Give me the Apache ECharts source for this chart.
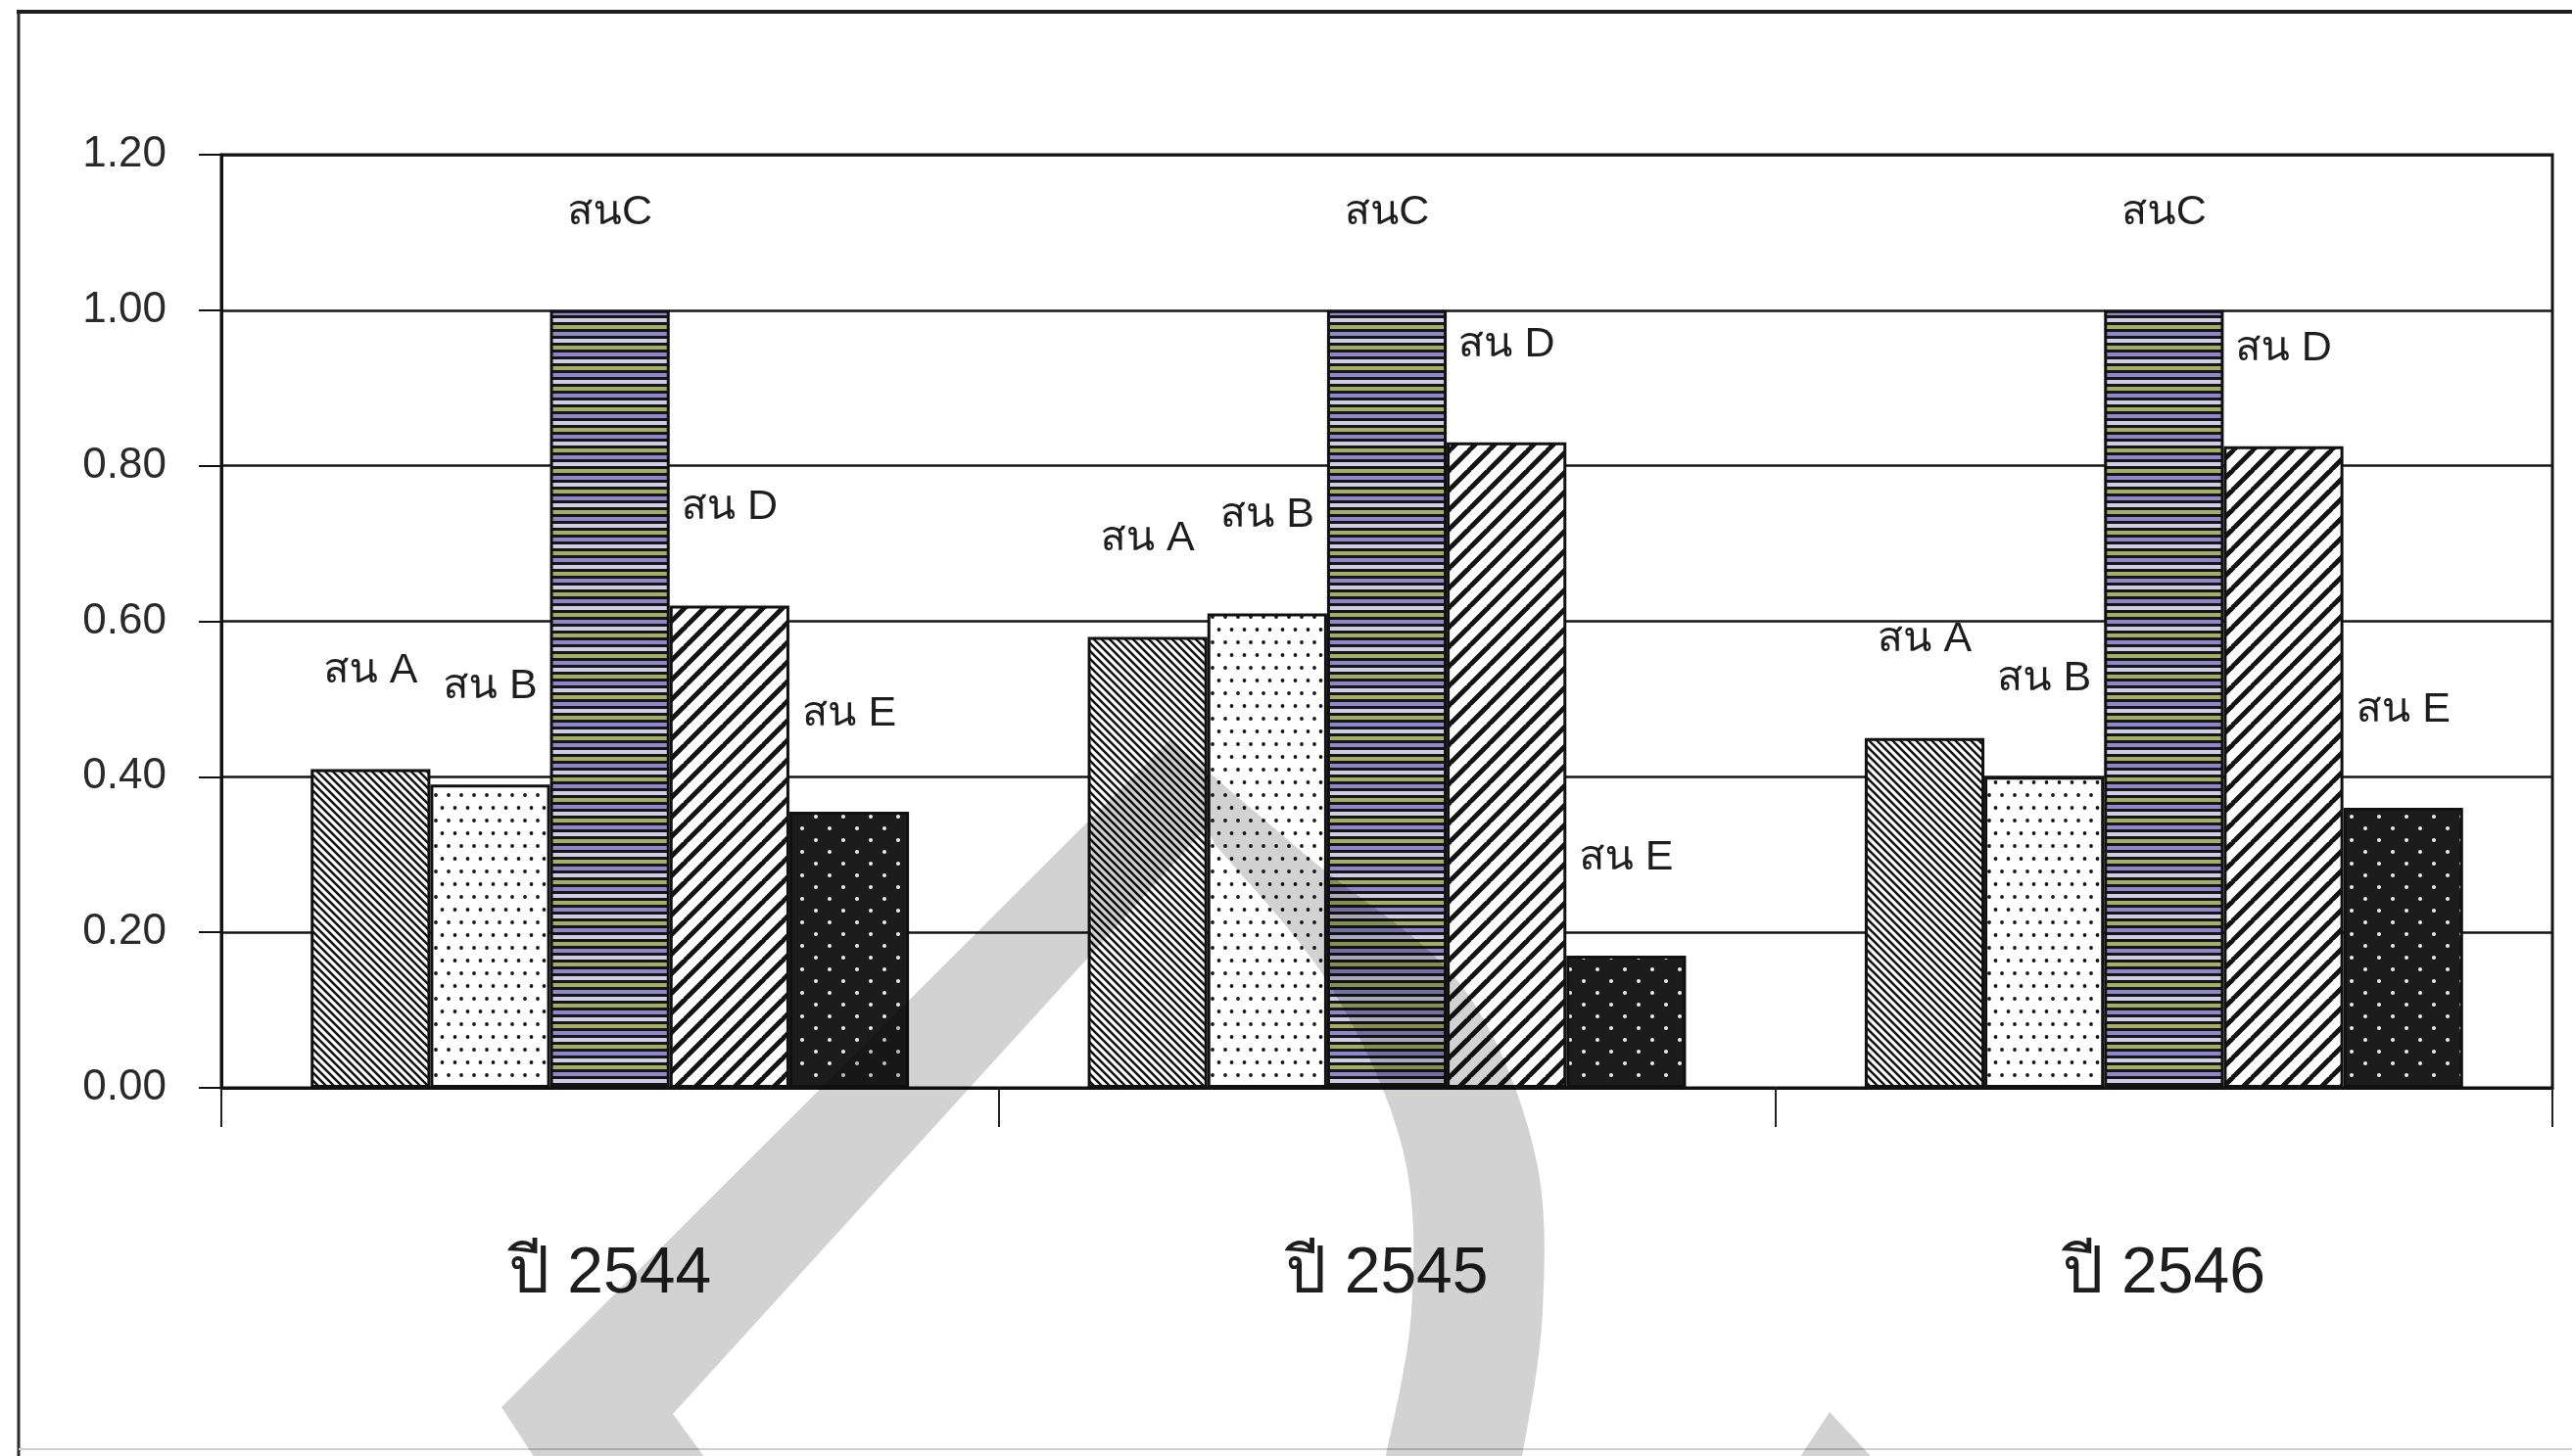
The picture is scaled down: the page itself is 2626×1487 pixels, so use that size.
<!DOCTYPE html>
<html>
<head>
<meta charset="utf-8">
<script src="https://cdn.jsdelivr.net/npm/echarts@6/dist/echarts.min.js"></script>
<style>
  html, body { margin: 0; padding: 0; background: #ffffff; }
  #chart { width: 2626px; height: 1487px; }
</style>
</head>
<body>
<div id="chart"></div>
<script>
// Categories (years) and one value per pine species per year
const years = ['ปี 2544', 'ปี 2545', 'ปี 2546'];
const speciesNames = ['สน A', 'สน B', 'สนC', 'สน D', 'สน E'];
const pineA = [0.41, 0.58, 0.45];
const pineB = [0.39, 0.61, 0.40];
const pineC = [1.00, 1.00, 1.00];
const pineD = [0.62, 0.83, 0.825];
const pineE = [0.355, 0.17, 0.36];
const yTickLabels = ['0.00', '0.20', '0.40', '0.60', '0.80', '1.00', '1.20'];

const FONT = "'Liberation Sans', Arial, 'Garuda', 'Loma', 'Noto Sans Thai', 'Noto Sans', 'DejaVu Sans', sans-serif";

// ---- hatch / dot fill tiles ----
function tile(w, h, draw) {
  const c = document.createElement('canvas');
  c.width = w; c.height = h;
  draw(c.getContext('2d'), w, h);
  return c;
}
function stripes(size, width, back, dir) {
  return tile(size, size, (g, w, h) => {
    g.fillStyle = back; g.fillRect(0, 0, w, h);
    g.strokeStyle = '#141414'; g.lineWidth = width;
    for (const o of [-w, 0, w]) {
      g.beginPath();
      if (dir === 'back') { g.moveTo(o - 1, -1); g.lineTo(o + w + 1, h + 1); }
      else { g.moveTo(o - 1, h + 1); g.lineTo(o + w + 1, -1); }
      g.stroke();
    }
  });
}
function dots(w, h, back, dot, r, pts) {
  return tile(w, h, (g) => {
    g.fillStyle = back; g.fillRect(0, 0, w, h);
    g.fillStyle = dot;
    pts.forEach(p => { g.beginPath(); g.arc(p[0], p[1], r, 0, Math.PI * 2); g.fill(); });
  });
}
const fillA = stripes(8, 2.6, '#ffffff', 'back');
const fillB = dots(13, 26, '#ffffff', '#161616', 1.9, [[3, 6], [9.5, 19]]);
const fillC = tile(7, 21, (g, w) => {
  const gaps = ['#8f87c9', '#cfcce6', '#a5ad66'];
  for (let i = 0; i < 3; i++) {
    g.fillStyle = '#161616'; g.fillRect(0, i * 7, w, 3);
    g.fillStyle = gaps[i]; g.fillRect(0, i * 7 + 3, w, 4);
  }
});
const fillD = stripes(20, 5, '#ffffff', 'fwd');
const fillE = dots(28, 24, '#1c1c1c', '#ececec', 2, [[7, 6], [21, 18]]);

const fills = [fillA, fillB, fillC, fillD, fillE];
const values = [pineA, pineB, pineC, pineD, pineE];

const series = speciesNames.map((name, i) => ({
  name: name,
  type: 'bar',
  data: values[i],
  barGap: '0%',
  barCategoryGap: '23%',
  itemStyle: {
    color: { image: fills[i], repeat: 'repeat' },
    borderColor: '#111111',
    borderWidth: 3
  },
  label: {
    show: true,
    position: 'top',
    distance: 78,
    formatter: '{a}',
    color: '#1e1e1e',
    fontSize: 43,
    lineHeight: 44,
    fontFamily: FONT
  },
  emphasis: { disabled: true }
}));

// ---- large light-grey watermark shape drawn over the chart ----
function catmull(pts, steps) {
  const out = [];
  for (let i = 0; i < pts.length - 1; i++) {
    const p0 = pts[Math.max(0, i - 1)], p1 = pts[i], p2 = pts[i + 1], p3 = pts[Math.min(pts.length - 1, i + 2)];
    for (let s = 0; s < steps; s++) {
      const t = s / steps, t2 = t * t, t3 = t2 * t;
      out.push([0, 1].map(k => 0.5 * ((2 * p1[k]) + (-p0[k] + p2[k]) * t +
        (2 * p0[k] - 5 * p1[k] + 4 * p2[k] - p3[k]) * t2 + (-p0[k] + 3 * p1[k] - 3 * p2[k] + p3[k]) * t3)));
    }
  }
  out.push(pts[pts.length - 1]);
  return out;
}
const outerArc = catmull([[1195, 755], [1340, 879], [1491, 1005], [1566, 1173], [1575, 1340], [1552, 1500]], 8);
const innerArc = catmull([[1412, 1500], [1441, 1340], [1432, 1173], [1357, 1005], [1240, 862]], 8);
const watermarkPts = [[553, 1500], [512, 1437], [1195, 755]]
  .concat(outerArc.slice(1))
  .concat(innerArc)
  .concat([[1232, 845], [687, 1444], [728, 1500]]);

const chart = echarts.init(document.getElementById('chart'), null, { renderer: 'canvas' });
chart.setOption({
  backgroundColor: '#ffffff',
  animation: false,
  grid: {
    left: 226, right: 20, top: 158, bottom: 376,
    show: true, borderColor: '#141414', borderWidth: 3, backgroundColor: 'transparent'
  },
  xAxis: {
    type: 'category',
    data: years,
    axisLine: { show: true, lineStyle: { color: '#111111', width: 3 } },
    axisTick: { show: true, inside: false, length: 40, alignWithLabel: false, lineStyle: { color: '#222222', width: 2 } },
    axisLabel: { margin: 158, fontSize: 66, color: '#1e1e1e', fontFamily: FONT },
    splitLine: { show: false }
  },
  yAxis: {
    type: 'value',
    min: 0, max: 1.2, interval: 0.2,
    axisLine: { show: true, lineStyle: { color: '#111111', width: 3 } },
    axisTick: { show: true, inside: false, length: 23, lineStyle: { color: '#111111', width: 2 } },
    axisLabel: {
      margin: 56, fontSize: 44, color: '#2a2a2a', fontFamily: FONT,
      formatter: v => yTickLabels[Math.round(v / 0.2)]
    },
    splitLine: { show: true, lineStyle: { color: '#161616', width: 2.5 } }
  },
  series: series,
  graphic: [
    { type: 'line', shape: { x1: 19, y1: 12, x2: 19, y2: 1487 }, style: { stroke: '#2b2b2b', lineWidth: 3 }, z: 50 },
    { type: 'line', shape: { x1: 17, y1: 12, x2: 2626, y2: 12 }, style: { stroke: '#1e1e1e', lineWidth: 4 }, z: 50 },
    { type: 'line', shape: { x1: 19, y1: 1480, x2: 2626, y2: 1480 }, style: { stroke: '#cfcfcf', lineWidth: 2 }, z: 50 },
    { type: 'polygon', shape: { points: watermarkPts }, style: { fill: 'rgba(0,0,0,0.175)' }, z: 100, silent: true },
    { type: 'polygon', shape: { points: [[1868, 1442], [1922, 1500], [1830, 1500]] }, style: { fill: 'rgba(0,0,0,0.175)' }, z: 100, silent: true }
  ]
});
</script>
</body>
</html>
